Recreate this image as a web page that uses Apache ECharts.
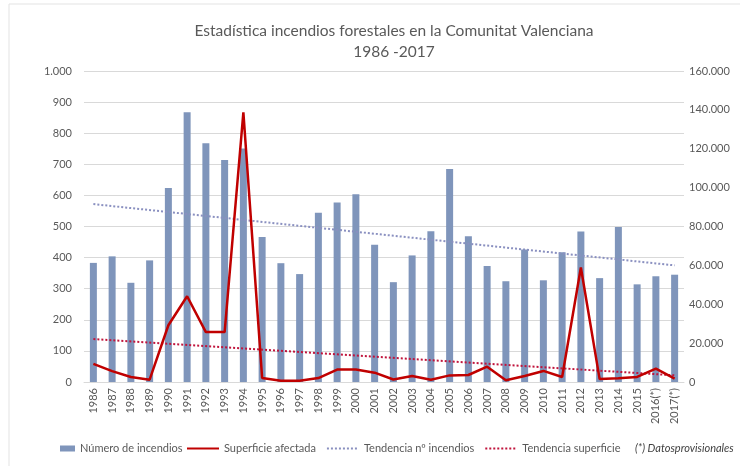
<!DOCTYPE html>
<html>
<head>
<meta charset="utf-8">
<script src="https://cdn.jsdelivr.net/npm/echarts@6/dist/echarts.min.js"></script>
<style>
  html, body { margin: 0; padding: 0; background: #fff; }
  #chart { width: 740px; height: 466px; }
</style>
</head>
<body>
<div id="chart"></div>
<script>
// datos
var years = ['1986', '1987', '1988', '1989', '1990', '1991', '1992', '1993', '1994', '1995',
  '1996', '1997', '1998', '1999', '2000', '2001', '2002', '2003', '2004', '2005',
  '2006', '2007', '2008', '2009', '2010', '2011', '2012', '2013', '2014', '2015',
  '2016(*)', '2017(*)'];
var incendios = [383, 404, 319, 391, 624, 867, 768, 714, 751, 466,
  382, 347, 544, 577, 604, 441, 321, 407, 485, 685,
  469, 373, 324, 426, 327, 417, 484, 334, 498, 314,
  340, 345];
var superficie = [9300, 5600, 2600, 1200, 29200, 44100, 25700, 25700, 138700, 2100,
  700, 700, 2000, 6400, 6400, 4800, 1300, 3100, 1200, 3400,
  3600, 7900, 900, 3100, 5700, 2600, 58900, 1500, 1900, 2600,
  6900, 1700];
// extremos de las lineas de tendencia (1986 y 2017)
var tendIncendios = [572, 375];
var tendSuperficie = [22100, 3400];

var grey = '#595959';
var font = 'Lato, "Open Sans", sans-serif';

function miles(v) {
  return String(v).replace(/\B(?=(\d{3})+(?!\d))/g, '.');
}

var chart = echarts.init(document.getElementById('chart'));

var option = {
  animation: false,
  textStyle: { fontFamily: font },
  title: {
    text: 'Estadística incendios forestales en la Comunitat Valenciana\n1986 -2017',
    left: 389,
    top: 15,
    textAlign: 'center',
    textStyle: { color: grey, fontSize: 15.5, fontWeight: 'normal', lineHeight: 21, fontFamily: font }
  },
  graphic: [{
    type: 'rect',
    shape: { x: 9, y: 4, width: 740, height: 470 },
    style: { fill: 'none', stroke: '#e3e3e3', lineWidth: 1 },
    silent: true
  }, {
    type: 'text',
    left: 635,
    top: 443,
    style: { text: '(*) Datosprovisionales', fill: '#404040', font: 'italic 11px ' + font }
  }],
  legend: [{
    left: 60,
    top: 443,
    padding: 0,
    itemWidth: 15,
    itemHeight: 6,
    icon: 'rect',
    textStyle: { color: grey, fontSize: 11 },
    data: ['Número de incendios']
  }, {
    left: 186,
    top: 443,
    padding: 0,
    itemWidth: 32,
    itemHeight: 8,
    itemGap: 10,
    itemStyle: { opacity: 0 },
    textStyle: { color: grey, fontSize: 11 },
    data: ['Superficie afectada', 'Tendencia nº incendios', 'Tendencia superficie']
  }],
  grid: { left: 84, right: 56, top: 71, bottom: 84 },
  xAxis: {
    type: 'category',
    data: years,
    axisLine: { lineStyle: { color: '#d9d9d9' } },
    axisTick: { show: false },
    axisLabel: { color: grey, fontSize: 11, rotate: 90, interval: 0, margin: 6 }
  },
  yAxis: [{
    type: 'value',
    min: 0,
    max: 1000,
    interval: 100,
    axisLine: { show: false },
    axisTick: { show: false },
    splitLine: { lineStyle: { color: '#d9d9d9' } },
    axisLabel: { color: grey, fontSize: 11, margin: 12, formatter: miles }
  }, {
    type: 'value',
    min: 0,
    max: 160000,
    interval: 20000,
    axisLine: { show: false },
    axisTick: { show: false },
    splitLine: { show: false },
    axisLabel: { color: grey, fontSize: 11, margin: 5, formatter: miles }
  }],
  series: [{
    name: 'Número de incendios',
    type: 'bar',
    data: incendios,
    barWidth: 7,
    itemStyle: { color: '#7f95bb' }
  }, {
    name: 'Superficie afectada',
    type: 'line',
    yAxisIndex: 1,
    data: superficie,
    symbol: 'none',
    lineStyle: { color: '#c00000', width: 2.5 },
    itemStyle: { color: '#c00000' },
    z: 4
  }, {
    name: 'Tendencia nº incendios',
    type: 'line',
    data: [[years[0], tendIncendios[0]], [years[years.length - 1], tendIncendios[1]]],
    symbol: 'none',
    lineStyle: { color: '#8a90c0', width: 2, type: 'dotted' },
    itemStyle: { color: '#8a90c0' },
    z: 3
  }, {
    name: 'Tendencia superficie',
    type: 'line',
    yAxisIndex: 1,
    data: [[years[0], tendSuperficie[0]], [years[years.length - 1], tendSuperficie[1]]],
    symbol: 'none',
    lineStyle: { color: '#c0143c', width: 2, type: 'dotted' },
    itemStyle: { color: '#c0143c' },
    z: 3
  }]
};

chart.setOption(option);
</script>
</body>
</html>
